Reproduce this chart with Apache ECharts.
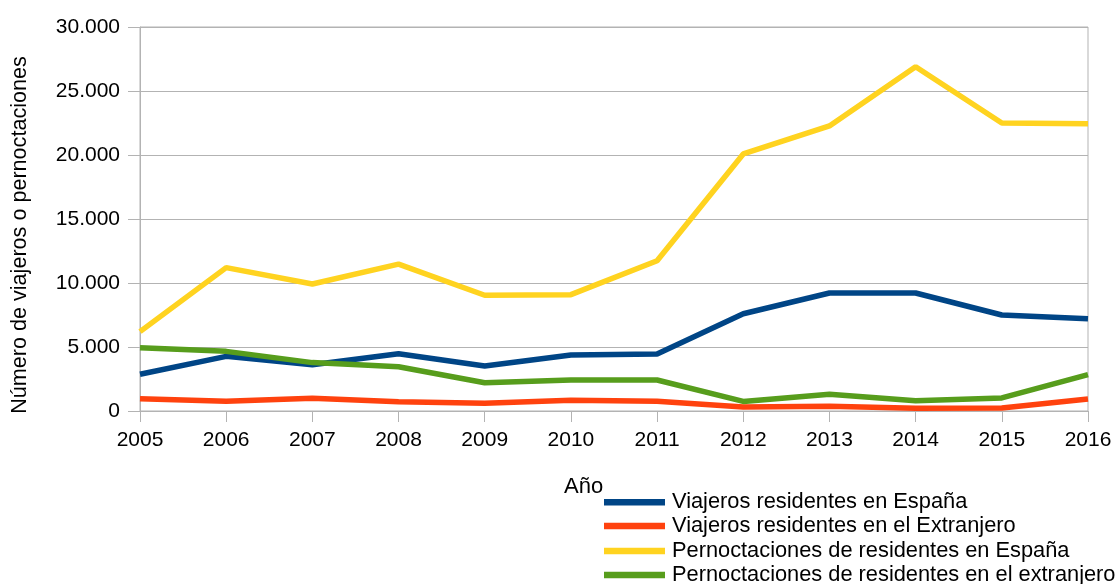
<!DOCTYPE html>
<html><head><meta charset="utf-8">
<script src="https://cdn.jsdelivr.net/npm/echarts@6/dist/echarts.min.js"></script>
<style>html,body{margin:0;padding:0;background:#fff}#c{width:1117px;height:584px}</style>
</head><body><div id="c"></div>
<script>
const years = ['2005','2006','2007','2008','2009','2010','2011','2012','2013','2014','2015','2016'];
const viajerosEspana = [2870, 4270, 3620, 4480, 3520, 4380, 4450, 7600, 9220, 9220, 7500, 7210];
const viajerosExtranjero = [960, 760, 990, 730, 600, 840, 760, 310, 370, 210, 230, 940];
const pernoctEspana = [6200, 11200, 9920, 11480, 9040, 9090, 11740, 20080, 22270, 26900, 22500, 22450];
const pernoctExtranjero = [4950, 4660, 3780, 3460, 2210, 2420, 2420, 750, 1300, 800, 1020, 2840];
const seriesNames = ['Viajeros residentes en España','Viajeros residentes en el Extranjero','Pernoctaciones de residentes en España','Pernoctaciones de residentes en el extranjero'];
const colors = ['#004586','#ff420e','#ffd320','#579d1c'];
const yTitle = 'Número de viajeros o pernoctaciones';
const xTitle = 'Año';

const font = 'Liberation Sans, Arial, sans-serif';
const chart = echarts.init(document.getElementById('c'));
const dataSets = [viajerosEspana, viajerosExtranjero, pernoctEspana, pernoctExtranjero];
const rowCenters = [500.7, 524.3, 549.3, 573.3];
chart.setOption({
  animation: false,
  color: colors,
  grid: {left: 140, right: 29, top: 27, bottom: 173, show: true, borderColor: '#b3b3b3', borderWidth: 1},
  xAxis: {
    type: 'category', data: years, boundaryGap: false,
    axisLine: {lineStyle: {color: '#b3b3b3'}},
    axisTick: {show: true, length: 11, lineStyle: {color: '#b3b3b3'}},
    axisLabel: {color: '#000', fontSize: 21, fontFamily: font, margin: 19},
    splitLine: {show: false}
  },
  yAxis: {
    type: 'value', min: 0, max: 30000, interval: 5000,
    axisLine: {show: true, lineStyle: {color: '#b3b3b3'}},
    axisTick: {show: true, length: 12, lineStyle: {color: '#b3b3b3'}},
    axisLabel: {color: '#000', fontSize: 21, fontFamily: font, margin: 20,
      formatter: v => String(v).replace(/\B(?=(\d{3})+(?!\d))/g, '.')},
    splitLine: {lineStyle: {color: '#b3b3b3'}}
  },
  legend: seriesNames.map((n, i) => ({
    orient: 'vertical', left: 604, top: rowCenters[i] - 9.4, padding: 0, icon: 'rect', itemWidth: 61, itemHeight: 6.5,
    textStyle: {color: '#000', fontSize: 21.8, fontFamily: font, padding: [0,0,0,2]},
    data: [n]
  })),
  graphic: [
    {type: 'text', left: 564, top: 476, style: {text: xTitle, fill: '#000', font: '22px ' + font}},
    {type: 'text', x: 20, y: 235, rotation: Math.PI/2, style: {text: yTitle, fill: '#000', font: '21.6px ' + font, textAlign: 'center', textVerticalAlign: 'middle'}}
  ],
  series: seriesNames.map((n, i) => ({
    name: n, type: 'line', data: dataSets[i], showSymbol: false, symbol: 'none',
    lineStyle: {width: 5.5, color: colors[i]}, itemStyle: {color: colors[i]}
  }))
});
</script></body></html>
